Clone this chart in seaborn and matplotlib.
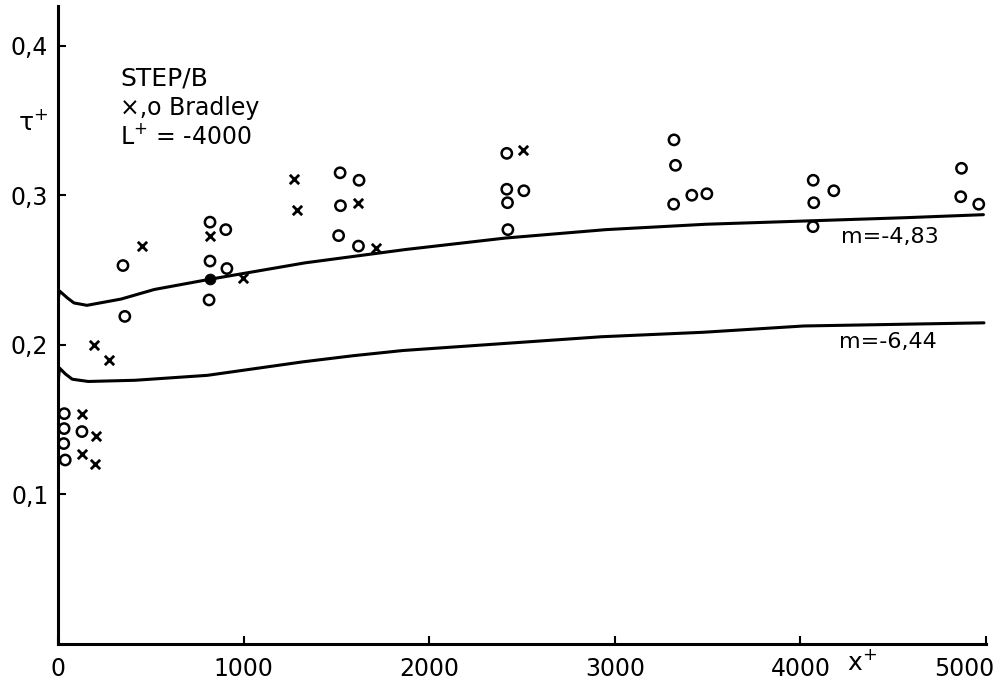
import matplotlib
matplotlib.use("Agg")
import matplotlib.pyplot as plt
import matplotlib.transforms as mtransforms
import seaborn as sns
import pandas as pd

# ---- data ----
circle_x = [34, 33, 31, 39, 129, 350, 360, 819, 904, 819, 910, 814,
            1520, 1622, 1522, 1512, 1619, 2418, 2418, 2510, 2422, 2424,
            3319, 3327, 3415, 3496, 3317, 4069, 4072, 4180, 4068,
            4868, 4864, 4961]
circle_y = [0.154, 0.144, 0.134, 0.123, 0.142, 0.253, 0.219, 0.282, 0.277,
            0.256, 0.251, 0.230, 0.315, 0.310, 0.293, 0.273, 0.266, 0.328,
            0.304, 0.303, 0.295, 0.277, 0.337, 0.320, 0.300, 0.301, 0.294,
            0.310, 0.295, 0.303, 0.279, 0.318, 0.299, 0.294]
cross_x = [455, 817, 995, 194, 273, 131, 204, 132, 200, 1272, 1289, 1619, 1716, 2504]
cross_y = [0.266, 0.273, 0.245, 0.200, 0.190, 0.154, 0.139, 0.127, 0.120,
           0.311, 0.290, 0.295, 0.265, 0.330]
dot_x = [817]
dot_y = [0.244]

upper_x = [0, 3, 8, 51, 86, 156, 340, 519, 817, 1331, 1872, 2412, 2952, 3491, 4031, 4569, 4986]
upper_y = [0.222, 0.232, 0.236, 0.2313, 0.228, 0.2264, 0.2306, 0.237, 0.2438,
           0.2548, 0.2637, 0.2714, 0.277, 0.2806, 0.2828, 0.285, 0.287]
lower_x = [0, 3, 8, 40, 77, 163, 415, 805, 1318, 1589, 1859, 2928, 3478, 4018, 4989]
lower_y = [0.165, 0.178, 0.1845, 0.1805, 0.177, 0.1755, 0.1763, 0.1796, 0.1886,
           0.1927, 0.1962, 0.2054, 0.2084, 0.2126, 0.2147]

curve_labels = ["m=-4,83", "m=-6,44"]
label_x = [4220, 4210]
label_y = [0.272, 0.202]

x_ticks = [0, 1000, 2000, 3000, 4000, 5000]
x_ticklabels = ["0", "1000", "2000", "3000", "4000", "5000"]
y_ticks = [0.1, 0.2, 0.3, 0.4]
y_ticklabels = ["0,1", "0,2", "0,3", "0,4"]

sns.set_style("ticks")
plt.rcParams['font.family'] = ['DejaVu Sans']
plt.rcParams['text.color'] = 'black'
plt.rcParams['xtick.color'] = 'black'
plt.rcParams['ytick.color'] = 'black'

fig = plt.figure(figsize=(10.05, 6.84), dpi=100)
ax = fig.add_axes([58 / 1005, 40 / 684, 928 / 1005, 638 / 684])

df_up = pd.DataFrame({"x": upper_x, "y": upper_y})
df_lo = pd.DataFrame({"x": lower_x, "y": lower_y})
sns.lineplot(data=df_up, x="x", y="y", ax=ax, color="black", lw=2.2, sort=False)
sns.lineplot(data=df_lo, x="x", y="y", ax=ax, color="black", lw=2.2, sort=False)

sns.scatterplot(x=circle_x, y=circle_y, ax=ax, marker="o", s=55,
                facecolor="none", edgecolor="black", linewidth=1.8, zorder=3)
sns.scatterplot(x=cross_x, y=cross_y, ax=ax, marker="x", s=45,
                color="black", linewidth=2.0, zorder=3)
sns.scatterplot(x=dot_x, y=dot_y, ax=ax, marker="o", s=60,
                color="black", edgecolor="black", zorder=4)

for t, lx, ly in zip(curve_labels, label_x, label_y):
    ax.text(lx, ly, t, fontsize=16, ha="left", va="center", color="black")

ax.set_xlim(0, 5000)
ax.set_ylim(0, 0.4265)
ax.set_xticks(x_ticks)
ax.set_xticklabels(x_ticklabels)
ax.set_yticks(y_ticks)
ax.set_yticklabels(y_ticklabels)
ax.tick_params(axis="both", direction="in", length=6, width=1.5, labelsize=17,
               colors="black")
ax.tick_params(axis="x", pad=9)
ax.tick_params(axis="y", pad=7)
last = ax.get_xticklabels()[-1]
last.set_ha("right")
last.set_transform(last.get_transform() +
                   mtransforms.ScaledTranslation(8 / 100, 0, fig.dpi_scale_trans))
ax.set_xlabel("")
ax.set_ylabel("")
sns.despine(ax=ax)
for sp in ["left", "bottom"]:
    ax.spines[sp].set_linewidth(2.2)
    ax.spines[sp].set_color("black")

fig.text(120 / 1005, 1 - 78 / 684, "STEP/B", fontsize=18, ha="left", va="center")
fig.text(120 / 1005, 1 - 108 / 684, "×,o Bradley", fontsize=17, ha="left", va="center")
fig.text(120 / 1005, 1 - 137 / 684, "L$^{+}$ = -4000", fontsize=17, ha="left", va="center")
fig.text(33 / 1005, 1 - 122 / 684, "τ$^{+}$", fontsize=18, ha="center", va="center")
fig.text(862 / 1005, 1 - 662 / 684, "x$^{+}$", fontsize=18, ha="center", va="center")

fig.savefig("out.png", dpi=100)
